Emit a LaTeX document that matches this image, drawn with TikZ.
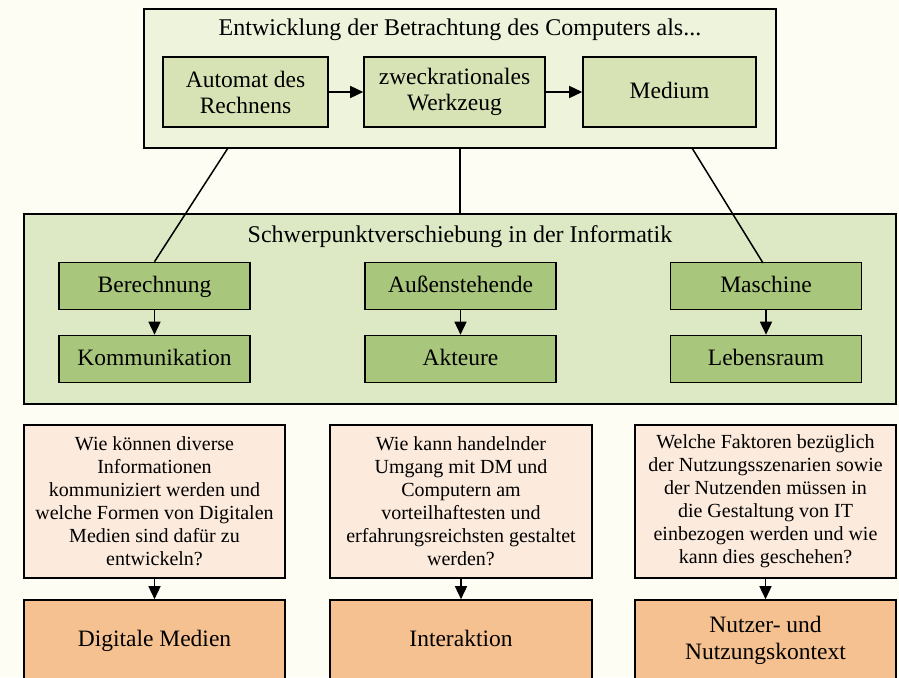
\documentclass[tikz,border=0pt]{standalone}
\usepackage{fontspec}
\setmainfont{Liberation Serif}
\usetikzlibrary{arrows.meta}
\definecolor{bgc}{HTML}{FEFDF3}
\definecolor{topfill}{HTML}{EEF3DC}
\definecolor{topinner}{HTML}{D7E3B5}
\definecolor{midfill}{HTML}{DDE9C4}
\definecolor{midinner}{HTML}{A9C77C}
\definecolor{qfill}{HTML}{FCEADC}
\definecolor{ofill}{HTML}{F6C191}
\tikzset{
  boxbase/.style={draw=black, line width=1.6pt, inner sep=0pt, align=center},
  outerbox/.style={boxbase},
  oneline/.style={text height=17pt, text depth=5pt},
  topbox/.style={boxbase, fill=topinner, minimum height=70pt, font=\fontsize{23.5}{26}\selectfont},
  midbox/.style={boxbase, oneline, fill=midinner, minimum width=191pt, minimum height=47pt, font=\fontsize{23.5}{26}\selectfont},
  qbox/.style={boxbase, fill=qfill, minimum height=153pt, font=\fontsize{20}{23}\selectfont},
  obox/.style={boxbase, fill=ofill, minimum height=80pt, font=\fontsize{23.5}{27}\selectfont},
  titletext/.style={inner sep=0pt, font=\fontsize{24}{26}\selectfont},
  arr/.style={line width=1.5pt, -{Triangle[length=13pt,width=12pt]}},
  conn/.style={line width=1.5pt}
}
\begin{document}
\begin{tikzpicture}[x=1pt,y=-1pt]
\useasboundingbox (0,0) rectangle (899,677);
\clip (0,0) rectangle (899,677);
\fill[bgc] (0,0) rectangle (899,677);

% top section
\node[outerbox, fill=topfill, minimum width=632pt, minimum height=139pt] (top) at (460,78.5) {};
\node[titletext] (toptitle) at (460,30) {Entwicklung der Betrachtung des Computers als...};
\node[topbox, minimum width=165pt] (automat) at (245.5,92) {Automat des\\Rechnens};
\node[topbox, minimum width=181pt] (zweck) at (454.5,92) {zweckrationales\\Werkzeug};
\node[topbox, oneline, minimum width=173pt] (medium) at (669.5,92) {Medium};
\draw[arr] (automat) -- (zweck);
\draw[arr] (zweck) -- (medium);

% middle section
\node[outerbox, fill=midfill, minimum width=872pt, minimum height=190pt] (mid) at (460,309) {};
\node[titletext] (midtitle) at (460,237) {Schwerpunktverschiebung in der Informatik};
\node[midbox] (berechnung) at (154.5,286) {Berechnung};
\node[midbox] (kommunikation) at (154.5,359) {Kommunikation};
\node[midbox] (aussen) at (460.5,286) {Außenstehende};
\node[midbox] (akteure) at (460.5,359) {Akteure};
\node[midbox] (maschine) at (766,286) {Maschine};
\node[midbox] (lebensraum) at (766,359) {Lebensraum};
\draw[arr] (berechnung) -- (kommunikation);
\draw[arr] (aussen) -- (akteure);
\draw[arr] (maschine) -- (lebensraum);

% connectors top -> middle
\coordinate (tl) at (228,148);
\coordinate (tr) at (692,148);
\coordinate (mr) at (763,263);
\draw[conn] (tl) -- (berechnung.north);
\draw[conn] (top.south) -- (mid.north);
\draw[conn] (tr) -- (mr);

% bottom section
\node[qbox, minimum width=261pt] (q1) at (154.5,501.5) {Wie können diverse\\Informationen\\kommuniziert werden und\\welche Formen von Digitalen\\Medien sind dafür zu\\entwickeln?};
\node[qbox, minimum width=262pt] (q2) at (461,501.5) {Wie kann handelnder\\Umgang mit DM und\\Computern am\\vorteilhaftesten und\\erfahrungsreichsten gestaltet\\werden?};
\node[qbox, minimum width=261pt] (q3) at (765.5,501.5) {Welche Faktoren bezüglich\\der Nutzungsszenarien sowie\\der Nutzenden müssen in\\die Gestaltung von IT\\einbezogen werden und wie\\kann dies geschehen?};
\node[obox, oneline, minimum width=261pt] (o1) at (154.5,640) {Digitale Medien};
\node[obox, oneline, minimum width=262pt] (o2) at (461,640) {Interaktion};
\node[obox, minimum width=261pt] (o3) at (765.5,640) {Nutzer- und\\Nutzungskontext};
\draw[arr] (q1) -- (o1);
\draw[arr] (q2) -- (o2);
\draw[arr] (q3) -- (o3);
\end{tikzpicture}
\end{document}
